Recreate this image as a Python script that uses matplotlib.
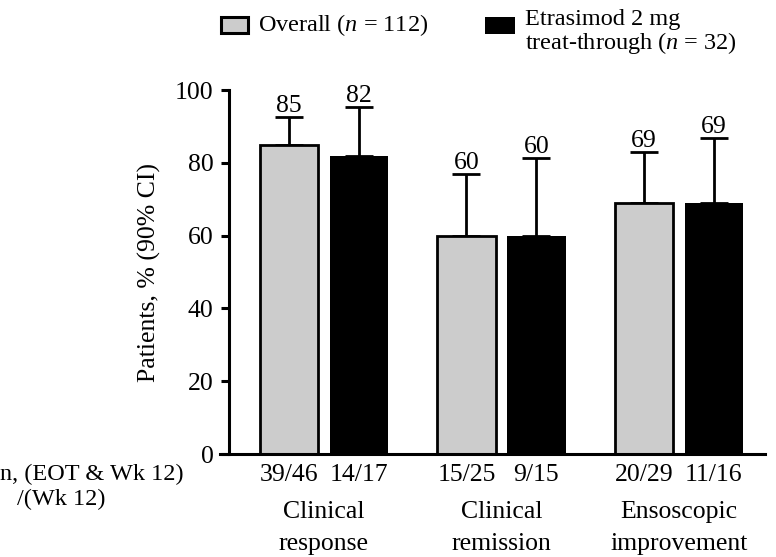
import matplotlib
matplotlib.use("Agg")
import matplotlib.pyplot as plt
from matplotlib.patches import Rectangle
import numpy as np

plt.rcParams['font.family'] = ['Liberation Serif', 'DejaVu Serif']
plt.rcParams['mathtext.fontset'] = 'custom'
plt.rcParams['mathtext.it'] = 'Liberation Serif:italic'
plt.rcParams['mathtext.rm'] = 'Liberation Serif'

groups = ["Clinical\nresponse", "Clinical\nremission", "Ensoscopic\nimprovement"]
overall = [85, 60, 69]
overall_upper = [92.7, 76.8, 83.1]
treat = [82, 60, 69]
treat_upper = [95.4, 81.4, 86.9]
overall_n = ["39/46", "15/25", "20/29"]
treat_n = ["14/17", "9/15", "11/16"]

FS = 18.5
FS_SMALL = 17.5
fig = plt.figure(figsize=(7.76, 5.57), dpi=100)
ax = fig.add_axes([0.2835, 0.1849, 0.7023, 0.6535])

x = np.arange(len(groups))
off = 0.197
w = 0.33
xo = x - off
xt = x + off

ax.bar(xo, overall, width=w, color='#cccccc', edgecolor='black', linewidth=2.0, zorder=2)
ax.bar(xt, treat, width=w, color='black', edgecolor='black', linewidth=0, zorder=2)

ov = np.array(overall); tr = np.array(treat)
ax.errorbar(xo, ov, yerr=[np.zeros(3), np.array(overall_upper) - ov], fmt='none',
            ecolor='black', elinewidth=2.0, capsize=10, capthick=2.0, zorder=1)
ax.errorbar(xt, tr, yerr=[np.zeros(3), np.array(treat_upper) - tr], fmt='none',
            ecolor='black', elinewidth=2.0, capsize=10, capthick=2.0, zorder=1)

for xi, v, u in zip(xo, overall, overall_upper):
    ax.annotate(f"{v}", (xi, u), xytext=(0, 0), textcoords='offset points',
                ha='center', va='bottom', fontsize=FS)
for xi, v, u in zip(xt, treat, treat_upper):
    ax.annotate(f"{v}", (xi, u), xytext=(0, 0), textcoords='offset points',
                ha='center', va='bottom', fontsize=FS)

ax.set_xlim(-0.586, 2.485)
ax.set_ylim(0, 100)
ax.set_yticks([0, 20, 40, 60, 80, 100])
ax.tick_params(axis='y', direction='out', length=6, width=2.2, labelsize=FS, pad=5)

pos = np.concatenate([xo, xt])
labs = overall_n + treat_n
ax.set_xticks(pos)
ax.set_xticklabels(labs, fontsize=FS)
ax.tick_params(axis='x', length=0, pad=7)

for xi, g in zip(x, groups):
    ax.annotate(g, (xi, 0), xycoords=('data', 'axes fraction'), xytext=(0, -34),
                textcoords='offset points', ha='center', va='top', fontsize=FS,
                linespacing=1.55)

ax.spines['top'].set_visible(False)
ax.spines['right'].set_visible(False)
ax.spines['left'].set_linewidth(2.2)
ax.spines['bottom'].set_linewidth(2.2)
ax.spines['left'].set_position(('axes', 0.016))
ax.spines['left'].set_zorder(3)

ax.set_ylabel("Patients, % (90% CI)", fontsize=FS, labelpad=10)

fig.text(0.0, 1 - 474/557, "n, (EOT & Wk 12)", fontsize=FS_SMALL, ha='left', va='center')
fig.text(17/776, 1 - 499/557, "/(Wk 12)", fontsize=FS_SMALL, ha='left', va='center')

# legend
W, H = 776, 557
fig.patches.append(Rectangle((221/W, 1 - 33/H), 27/W, 16/H, transform=fig.transFigure,
                             facecolor='#cccccc', edgecolor='black', linewidth=2.2))
fig.text(258/W, 1 - 25/H, r"Overall ($n$ = 112)", fontsize=FS_SMALL, ha='left', va='center')
fig.patches.append(Rectangle((485/W, 1 - 34/H), 30/W, 17/H, transform=fig.transFigure,
                             facecolor='black', edgecolor='black', linewidth=0))
fig.text(525/W, 1 - 20/H, "Etrasimod 2 mg", fontsize=FS_SMALL, ha='left', va='center')
fig.text(525/W, 1 - 43/H, r"treat-through ($n$ = 32)", fontsize=FS_SMALL, ha='left', va='center')

fig.savefig("out.png", dpi=100)
